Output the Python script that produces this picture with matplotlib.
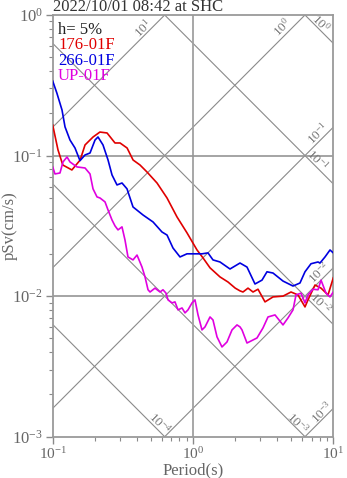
import numpy as np
import matplotlib
matplotlib.use("Agg")
import matplotlib.pyplot as plt
from matplotlib.ticker import LogLocator, NullFormatter

plt.rcParams['font.family'] = 'serif'
plt.rcParams['font.serif'] = ['Liberation Serif', 'DejaVu Serif']
plt.rcParams['mathtext.default'] = 'regular'
plt.rcParams['axes.unicode_minus'] = False

# ---- pseudo-velocity response spectra (h = 5%) ----
period_176 = [0.100, 0.109, 0.118, 0.137, 0.157, 0.170, 0.194, 0.217, 0.244, 0.278,
              0.302, 0.339, 0.374, 0.419, 0.470, 0.554, 0.653, 0.769, 0.906, 1.068,
              1.179, 1.322, 1.557, 1.777, 2.000, 2.163, 2.272, 2.466, 2.678, 2.906,
              3.260, 3.717, 4.381, 4.995, 5.602, 6.284, 6.601, 7.406, 8.174, 9.170, 10.0]
psv_176 = [0.165, 0.110, 0.0857, 0.0790, 0.0930, 0.119, 0.1356, 0.147, 0.1448, 0.1229,
           0.1229, 0.1132, 0.0930, 0.0857, 0.0764, 0.0638, 0.0499, 0.0366, 0.0282, 0.0213,
           0.0187, 0.0159, 0.0137, 0.0126, 0.0114, 0.0109, 0.0107, 0.0114, 0.0107, 0.0112,
           0.0091, 0.00987, 0.0100, 0.0107, 0.0102, 0.00838, 0.0094, 0.0120, 0.0114, 0.0102, 0.0135]

period_266 = [0.100, 0.107, 0.1165, 0.1224, 0.1328, 0.1442, 0.1565, 0.170, 0.1845, 0.2003,
              0.2103, 0.2283, 0.248, 0.2647, 0.2873, 0.3118, 0.3385, 0.3736, 0.440, 0.519,
              0.601, 0.653, 0.720, 0.808, 0.906, 1.000, 1.159, 1.279, 1.388, 1.557,
              1.835, 2.163, 2.426, 2.766, 3.103, 3.368, 3.717, 4.381, 5.161, 5.788,
              6.284, 6.935, 7.780, 8.040, 8.727, 9.474, 10.0]
psv_266 = [0.339, 0.279, 0.211, 0.160, 0.129, 0.1132, 0.092, 0.101, 0.1043, 0.129,
           0.1356, 0.119, 0.093, 0.0728, 0.0618, 0.0638, 0.058, 0.0431, 0.0378, 0.0337,
           0.0286, 0.0272, 0.0220, 0.0190, 0.0200, 0.0200, 0.0200, 0.0203, 0.0181, 0.0175,
           0.0156, 0.0172, 0.0161, 0.0122, 0.0130, 0.0149, 0.0146, 0.0128, 0.0118, 0.0124,
           0.0149, 0.0170, 0.0175, 0.0172, 0.0190, 0.0213, 0.0203]

period_up = [0.100, 0.1038, 0.1127, 0.1184, 0.1265, 0.1328, 0.149, 0.170, 0.1845, 0.1938,
             0.2069, 0.2174, 0.236, 0.248, 0.2647, 0.278, 0.292, 0.3118, 0.3275, 0.344,
             0.3736, 0.399, 0.433, 0.455, 0.478, 0.494, 0.536, 0.582, 0.611, 0.642,
             0.664, 0.709, 0.744, 0.782, 0.835, 0.877, 0.921, 0.984, 1.033, 1.086,
             1.159, 1.218, 1.322, 1.388, 1.483, 1.609, 1.747, 1.897, 2.059, 2.163,
             2.235, 2.426, 2.859, 3.154, 3.424, 3.841, 4.381, 4.754, 5.161, 5.422,
             5.885, 6.284, 6.601, 7.168, 7.780, 8.174, 8.872, 9.474, 10.0]
psv_up = [0.083, 0.074, 0.0752, 0.0901, 0.0977, 0.0901, 0.083, 0.0816, 0.074, 0.058,
          0.0508, 0.0499, 0.0468, 0.041, 0.0348, 0.0316, 0.0296, 0.0311, 0.0251, 0.019,
          0.0181, 0.0196, 0.0161, 0.0137, 0.0111, 0.0107, 0.0114, 0.0107, 0.0111, 0.0105,
          0.0094, 0.00895, 0.0091, 0.00798, 0.00824, 0.0076, 0.00798, 0.00895, 0.0094, 0.00735,
          0.00575, 0.00604, 0.00711, 0.00677, 0.00513, 0.00435, 0.00472, 0.00575, 0.00624, 0.00604,
          0.00575, 0.00464, 0.00504, 0.00594, 0.00711, 0.00735, 0.00624, 0.0070, 0.00798, 0.0102,
          0.0105, 0.00895, 0.0102, 0.0112, 0.0111, 0.0130, 0.0105, 0.00987, 0.0107]

series_names = ['176-01F', '266-01F', 'UP-01F']
series_colors = ['#e00000', '#0000e0', '#e000e0']

# tripartite reference values: acceleration (cm/s^2) and displacement (cm)
accel_levels = [1e1, 1e0, 1e-1, 1e-2, 1e-3]
disp_levels = [1e0, 1e-1, 1e-2, 1e-3, 1e-4]
accel_exps = [1, 0, -1, -2, -3]
disp_exps = [0, -1, -2, -3, -4]

TMIN, TMAX = 0.1, 10.0
VMIN, VMAX = 1e-3, 1.0

W, H = 347, 478
fig = plt.figure(figsize=(W / 100, H / 100), dpi=100)
ax = fig.add_axes([52.7 / W, 41.3 / H, 280.6 / W, 421.7 / H])
ax.set_xscale('log')
ax.set_yscale('log')
ax.set_xlim(TMIN, TMAX)
ax.set_ylim(VMIN, VMAX)

grey = '#8a8a8a'
tgrid = np.logspace(-1, 1, 200)

# constant-acceleration lines (slope +1) and constant-displacement lines (slope -1)
accel_offsets = [(-22, 13), (-23, 12), (-15, 6), (-14, 5), (-11, 4)]
disp_offsets = [(-13, -20), (-16, -24), (-13, -22), (-7, -14), (-5, -14)]

for sa, ex, (dx, dy) in zip(accel_levels, accel_exps, accel_offsets):
    ax.plot(tgrid, sa * tgrid / (2 * np.pi), color=grey, lw=0.8, zorder=1)
    t_top = 2 * np.pi * VMAX / sa
    end = (t_top, VMAX) if t_top <= TMAX else (TMAX, sa * TMAX / (2 * np.pi))
    ax.annotate(f'10$^{{{ex}}}$', xy=end, xytext=(dx * 0.72, -dy * 0.72),
                textcoords='offset points', ha='center', va='center',
                rotation=45, fontsize=9.5, color='#777777', annotation_clip=False)

for sd, ex, (dx, dy) in zip(disp_levels, disp_exps, disp_offsets):
    ax.plot(tgrid, 2 * np.pi * sd / tgrid, color=grey, lw=0.8, zorder=1)
    v_right = 2 * np.pi * sd / TMAX
    end = (TMAX, v_right) if v_right >= VMIN else (2 * np.pi * sd / VMIN, VMIN)
    ax.annotate(f'10$^{{{ex}}}$', xy=end, xytext=(dx * 0.72, -dy * 0.72),
                textcoords='offset points', ha='center', va='center',
                rotation=-45, fontsize=9.5, color='#777777', annotation_clip=False)

# decade grid
ax.axvline(1.0, color='#a0a0a0', lw=1.3, zorder=1)
for v in (0.1, 0.01):
    ax.axhline(v, color='#959595', lw=1.2, zorder=1)

for T, V, c in zip([period_176, period_266, period_up],
                   [psv_176, psv_266, psv_up], series_colors):
    ax.plot(T, V, color=c, lw=1.2, zorder=3)

for s in ax.spines.values():
    s.set_color('#9a9a9a')
    s.set_linewidth(1.3)

ax.tick_params(which='both', direction='out', colors='#8a8a8a',
               labelcolor='#666666', top=False, right=False)
ax.tick_params(which='major', length=5, width=1.0)
ax.tick_params(which='minor', length=3, width=0.8)
ax.tick_params(axis='x', which='major', pad=2, labelsize=11)
ax.tick_params(axis='y', which='major', pad=2, labelsize=12)
ax.xaxis.set_major_locator(LogLocator(base=10, numticks=10))
ax.yaxis.set_major_locator(LogLocator(base=10, numticks=10))
ax.xaxis.set_minor_locator(LogLocator(base=10, subs=np.arange(2, 10), numticks=20))
ax.yaxis.set_minor_locator(LogLocator(base=10, subs=np.arange(2, 10), numticks=20))
ax.xaxis.set_minor_formatter(NullFormatter())
ax.yaxis.set_minor_formatter(NullFormatter())

ax.set_xlabel('Period(s)', fontsize=12, color='#666666')
ax.set_ylabel('pSv(cm/s)', fontsize=12, color='#666666')
ax.xaxis.set_label_coords(0.5, -(462 - 436.7) / 421.7)
ax.yaxis.set_label_coords((18 - 52.7) / 280.6, 0.5)

fig.text(53 / W, 1 - 11 / H, '2022/10/01 08:42 at SHC', fontsize=12,
         color='#333333', ha='left', va='baseline')

legend_texts = ['h= 5%'] + series_names
legend_colors = ['#222222'] + series_colors
for i, (t, c) in enumerate(zip(legend_texts, legend_colors)):
    ax.text(0.019, 0.955 - i * 0.0365, t, transform=ax.transAxes, fontsize=12,
            color=c, ha='left', va='baseline', zorder=4)

fig.savefig('out.png', dpi=100)
